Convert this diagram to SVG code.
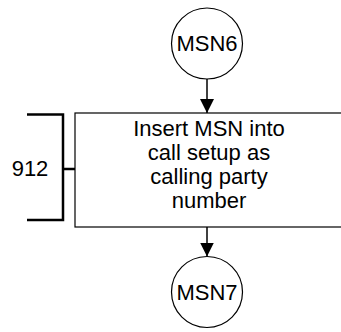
<svg xmlns="http://www.w3.org/2000/svg" width="341" height="332" viewBox="0 0 341 332">
<style>
.ln{stroke:#000;stroke-width:1.5;fill:none}
.br{stroke:#000;stroke-width:2.5;fill:none}
.nd{stroke:#000;stroke-width:1.2;fill:#fff}
.t{font-family:"Liberation Sans",Arial,Helvetica,sans-serif;font-size:22px;fill:#000;text-anchor:middle}
</style>
<defs>
<marker id="ah" markerWidth="14" markerHeight="14" refX="14" refY="7" orient="auto" markerUnits="userSpaceOnUse">
<path d="M0,0 L14,7 L0,14 Z" fill="#000"/>
</marker>
</defs>
<rect width="341" height="332" fill="#fff"/>
<g id="connectors">
<line class="ln" x1="207" y1="79" x2="207" y2="113" marker-end="url(#ah)"/>
<line class="ln" x1="207" y1="227" x2="207" y2="256.5" marker-end="url(#ah)"/>
</g>
<g id="msn6">
<circle class="nd" cx="207" cy="43.5" r="35.5"/>
<text class="t" x="207" y="51">MSN6</text>
</g>
<g id="box">
<rect class="nd" x="75" y="113" width="272" height="114"/>
<text class="t" x="209" y="136">Insert MSN into</text>
<text class="t" x="209" y="160">call setup as</text>
<text class="t" x="209" y="184">calling party</text>
<text class="t" x="209" y="208">number</text>
</g>
<g id="bracket912">
<path class="br" d="M27,114.5 H63 V220 H27 M63,169 H75"/>
<text class="t" x="30" y="176">912</text>
</g>
<g id="msn7">
<circle class="nd" cx="207" cy="292" r="35.5"/>
<text class="t" x="207" y="299.5">MSN7</text>
</g>
</svg>
